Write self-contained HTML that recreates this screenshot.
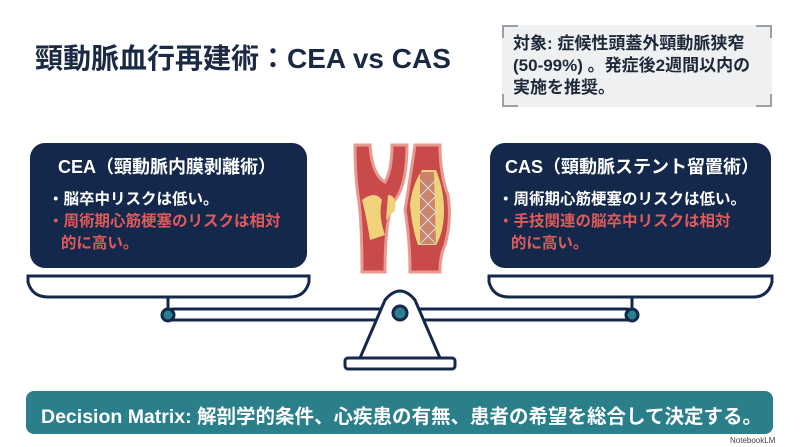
<!DOCTYPE html>
<html><head><meta charset="utf-8"><style>
body{margin:0;width:800px;height:447px;background:#fff;overflow:hidden;font-family:"Liberation Sans","Noto Sans CJK JP",sans-serif;}
svg{position:absolute;left:0;top:0}
.t{position:absolute;white-space:nowrap;font-weight:bold}
</style></head><body>
<svg width="800" height="447" viewBox="0 0 800 447">
<rect x="502" y="25" width="270" height="82" fill="#eef0f2"/>
<g stroke="#9aa0a6" stroke-width="2" fill="none">
<path d="M503 38V26H518"/><path d="M756 26H771V38"/><path d="M503 94V106H518"/><path d="M756 106H771V94"/>
</g>
<rect x="30" y="143" width="277" height="125" rx="15" fill="#13284a"/>
<rect x="490" y="143" width="281" height="125" rx="15" fill="#13284a"/>
<g stroke="#13284a" stroke-width="3" fill="#fff">
<path d="M28 276H309V282Q305 297 290 297H48Q32 297 28 282Z"/>
<path d="M489 276H772V282Q768 297 753 297H509Q493 297 489 282Z"/>
<path d="M168 297V312M632 297V312"/>
<rect x="168" y="309" width="464" height="11" rx="5"/>
<path d="M385 300Q400 282 415 300L440 358H360Z"/>
<rect x="345" y="358" width="110" height="11" rx="3"/>
</g>
<g fill="#2a7f8a" stroke="#13284a" stroke-width="3">
<circle cx="168" cy="315" r="6"/><circle cx="632" cy="315" r="6"/><circle cx="400" cy="313" r="7"/>
</g>
<g>
<path d="M355 145L370 145Q372 175 385 182Q392 170 392 145L407 145Q407 185 395 200Q385 215 385 272H362Q362 220 358 195Q355 175 355 145Z" fill="#c84a4a" stroke="#e89a90" stroke-width="3"/>
<path d="M362 200Q375 190 382 200Q378 215 385 235L370 240Q366 215 362 200Z" fill="#f0d27a"/>
<path d="M388 195Q397 195 395 210L386 220Z" fill="#f0d27a"/>
<path d="M415 145H440Q440 175 448 195Q452 220 445 245Q440 255 440 272H410Q410 240 405 210Q410 180 415 145Z" fill="#c84a4a" stroke="#e89a90" stroke-width="3"/>
<path d="M410 205Q412 185 422 170H436Q444 190 444 210Q444 232 436 245H418Q412 228 410 205Z" fill="#f0d27a"/>
<path d="M420 172H434L436 244H420Z" fill="#b05060" opacity="0.6"/>
<path d="M420 180L436 196M420 196L436 212M420 212L436 228M420 228L436 244M436 180L420 196M436 196L420 212M436 212L420 228M436 228L420 244" stroke="#ddd" stroke-width="1"/>
</g>
<rect x="26" y="391" width="747" height="43" rx="8" fill="#2a7f8a"/>
</svg>
<div class="t" style="left:35px;top:37px;font-size:28px;color:#1b2a44">頸動脈血行再建術：CEA vs CAS</div>
<div class="t" style="left:513px;top:33px;font-size:17px;line-height:22px;color:#1e2a3a">対象: 症候性頭蓋外頸動脈狭窄<br>(50-99%) 。発症後2週間以内の<br>実施を推奨。</div>
<div class="t" style="left:58px;top:153px;font-size:18px;color:#fff">CEA（頸動脈内膜剥離術）</div>
<div class="t" style="left:48px;top:189px;font-size:15.5px;line-height:22px;color:#fff">・脳卒中リスクは低い。<br><span style="color:#e05a5a">・周術期心筋梗塞のリスクは相対<br>&nbsp;&nbsp;&nbsp;的に高い。</span></div>
<div class="t" style="left:505px;top:153px;font-size:18px;color:#fff">CAS（頸動脈ステント留置術）</div>
<div class="t" style="left:498px;top:189px;font-size:15.5px;line-height:22px;color:#fff">・周術期心筋梗塞のリスクは低い。<br><span style="color:#e05a5a">・手技関連の脳卒中リスクは相対<br>&nbsp;&nbsp;&nbsp;的に高い。</span></div>
<div class="t" style="left:41px;top:400px;font-size:19.5px;color:#fff">Decision Matrix: 解剖学的条件、心疾患の有無、患者の希望を総合して決定する。</div>
<div class="t" style="left:730px;top:436px;font-size:8px;font-weight:normal;color:#444">NotebookLM</div>
</body></html>
